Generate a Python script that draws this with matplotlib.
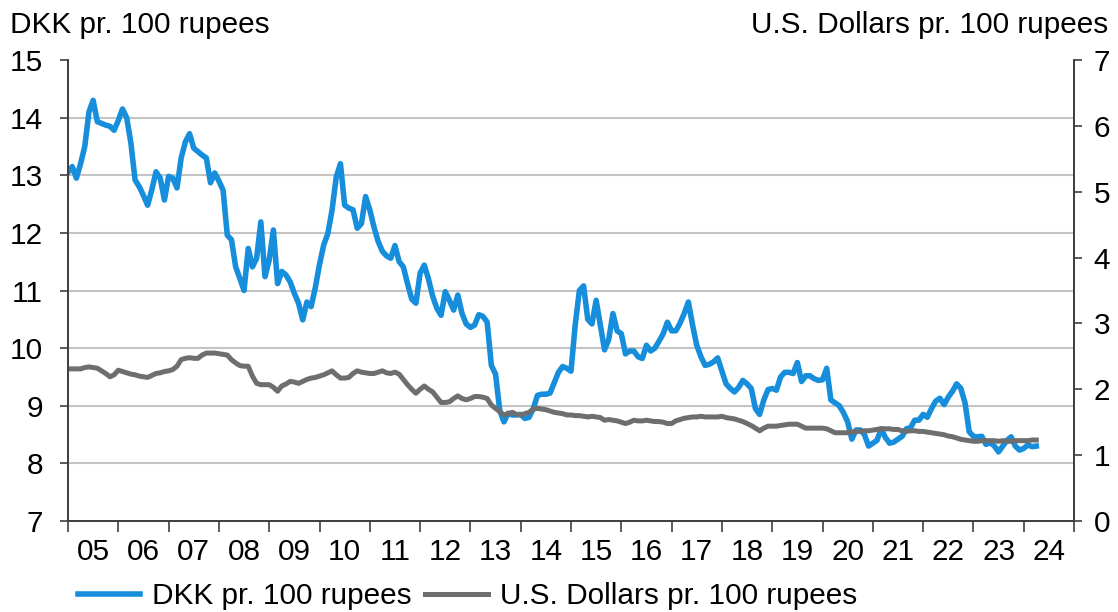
import matplotlib
matplotlib.use("Agg")
import matplotlib.pyplot as plt
import numpy as np

plt.rcParams['font.family'] = ['Liberation Sans', 'DejaVu Sans']

# Monthly data, Jan 2005 .. Apr 2024
dkk = [
    # 2005
    13.05, 13.15, 12.95, 13.2, 13.5, 14.1, 14.3, 13.93, 13.9, 13.87, 13.85, 13.78,
    # 2006
    13.95, 14.15, 14.0, 13.56, 12.92, 12.8, 12.65, 12.48, 12.75, 13.06, 12.95, 12.57,
    # 2007
    12.98, 12.95, 12.78, 13.3, 13.58, 13.72, 13.47, 13.41, 13.35, 13.3, 12.87, 13.04,
    # 2008
    12.9, 12.74, 11.96, 11.88, 11.41, 11.21, 11.0, 11.73, 11.41, 11.56, 12.19, 11.24,
    # 2009
    11.53, 12.05, 11.12, 11.33, 11.27, 11.15, 10.95, 10.78, 10.49, 10.8, 10.72, 11.05,
    # 2010
    11.45, 11.79, 11.99, 12.4, 12.97, 13.2, 12.48, 12.43, 12.4, 12.08, 12.16, 12.63,
    # 2011
    12.4, 12.1, 11.85, 11.68, 11.6, 11.56, 11.78, 11.5, 11.41, 11.12, 10.85, 10.78,
    # 2012
    11.3, 11.44, 11.2, 10.9, 10.69, 10.57, 10.98, 10.83, 10.66, 10.92, 10.6, 10.42,
    # 2013
    10.36, 10.4, 10.58, 10.55, 10.45, 9.7, 9.55, 8.92, 8.72, 8.87, 8.84, 8.84,
    # 2014
    8.85, 8.78, 8.8, 8.95, 9.18, 9.2, 9.2, 9.22, 9.4, 9.58, 9.68, 9.65,
    # 2015
    9.6, 10.4, 11.0, 11.08, 10.5, 10.42, 10.83, 10.4, 9.97, 10.15, 10.6, 10.3,
    # 2016
    10.25, 9.9, 9.95, 9.95, 9.85, 9.82, 10.05, 9.95, 10.0, 10.12, 10.25, 10.45,
    # 2017
    10.3, 10.3, 10.43, 10.6, 10.8, 10.4, 10.05, 9.85, 9.7, 9.72, 9.76, 9.83,
    # 2018
    9.6, 9.38, 9.3, 9.24, 9.32, 9.44, 9.38, 9.3, 8.95, 8.85, 9.1, 9.28,
    # 2019
    9.3, 9.27, 9.5, 9.58, 9.58, 9.56, 9.75, 9.42, 9.52, 9.52, 9.47, 9.44,
    # 2020
    9.45, 9.65, 9.1, 9.05, 9.0, 8.88, 8.72, 8.42, 8.58, 8.58, 8.5, 8.3,
    # 2021
    8.35, 8.4, 8.6, 8.45, 8.35, 8.37, 8.42, 8.47, 8.6, 8.62, 8.75, 8.75,
    # 2022
    8.85, 8.8, 8.95, 9.08, 9.13, 9.02, 9.15, 9.25, 9.38, 9.3, 9.05, 8.55,
    # 2023
    8.47, 8.46, 8.47, 8.33, 8.36, 8.3, 8.2, 8.3, 8.4, 8.46, 8.3, 8.23,
    # 2024
    8.26, 8.32, 8.29, 8.3,
]

usd = [
    # 2005
    2.31, 2.31, 2.31, 2.31, 2.33, 2.34, 2.33, 2.32, 2.28, 2.24, 2.19, 2.22,
    # 2006
    2.29, 2.27, 2.25, 2.23, 2.22, 2.20, 2.19, 2.18, 2.21, 2.24, 2.25, 2.27,
    # 2007
    2.28, 2.30, 2.35, 2.45, 2.47, 2.48, 2.47, 2.47, 2.52, 2.55, 2.55, 2.55,
    # 2008
    2.54, 2.53, 2.52, 2.45, 2.40, 2.36, 2.35, 2.35, 2.20, 2.09, 2.07, 2.07,
    # 2009
    2.07, 2.03, 1.97, 2.05, 2.08, 2.12, 2.11, 2.09, 2.12, 2.15, 2.17, 2.18,
    # 2010
    2.20, 2.22, 2.25, 2.28, 2.22, 2.17, 2.17, 2.18, 2.24, 2.28, 2.26, 2.25,
    # 2011
    2.24, 2.24, 2.26, 2.28, 2.25, 2.24, 2.26, 2.23, 2.15, 2.07, 2.00, 1.94,
    # 2012
    2.00, 2.05, 2.00, 1.96, 1.88, 1.80, 1.80, 1.81, 1.86, 1.90, 1.86, 1.84,
    # 2013
    1.86, 1.89, 1.89, 1.88, 1.86, 1.76, 1.71, 1.66, 1.61, 1.63, 1.65, 1.62,
    # 2014
    1.61, 1.63, 1.65, 1.70, 1.71, 1.70, 1.69, 1.67, 1.65, 1.64, 1.63, 1.61,
    # 2015
    1.61, 1.60, 1.60, 1.59, 1.58, 1.59, 1.58, 1.57, 1.53, 1.54, 1.53, 1.52,
    # 2016
    1.50, 1.48, 1.50, 1.53, 1.52, 1.52, 1.53, 1.52, 1.51, 1.51, 1.50, 1.48,
    # 2017
    1.48, 1.52, 1.54, 1.56, 1.57, 1.58, 1.58, 1.59, 1.58, 1.58, 1.58, 1.58,
    # 2018
    1.59, 1.57, 1.56, 1.55, 1.53, 1.51, 1.48, 1.45, 1.41, 1.37, 1.41, 1.44,
    # 2019
    1.44, 1.44, 1.45, 1.46, 1.47, 1.47, 1.47, 1.44, 1.41, 1.41, 1.41, 1.41,
    # 2020
    1.41, 1.40, 1.37, 1.34, 1.34, 1.34, 1.34, 1.35, 1.36, 1.36, 1.37, 1.37,
    # 2021
    1.38, 1.39, 1.40, 1.40, 1.40, 1.39, 1.39, 1.37, 1.36, 1.37, 1.37, 1.36,
    # 2022
    1.36, 1.35, 1.34, 1.33, 1.32, 1.31, 1.29, 1.28, 1.26, 1.24, 1.23, 1.22,
    # 2023
    1.21, 1.21, 1.22, 1.22, 1.22, 1.22, 1.21, 1.22, 1.21, 1.21, 1.22, 1.22,
    # 2024
    1.22, 1.22, 1.23, 1.23,
]

year_labels = ['05', '06', '07', '08', '09', '10', '11', '12', '13', '14',
               '15', '16', '17', '18', '19', '20', '21', '22', '23', '24']
left_ticks = [7, 8, 9, 10, 11, 12, 13, 14, 15]
right_ticks = [0, 1, 2, 3, 4, 5, 6, 7]

FS = 21.4
BLUE = '#168EDB'
GRAY = '#6E6E6E'

fig = plt.figure(figsize=(11.18, 6.12), dpi=100)
ax = fig.add_axes([68 / 1118, 1 - 521 / 612, (1074 - 68) / 1118, (521 - 60) / 612])
ax2 = ax.twinx()

months = np.arange(len(dkk))
l1, = ax.plot(months, dkk, color=BLUE, lw=4.0, solid_joinstyle='round', label='DKK pr. 100 rupees')
l2, = ax2.plot(np.arange(len(usd)), usd, color=GRAY, lw=3.6, solid_joinstyle='round',
               label='U.S. Dollars pr. 100 rupees')

n_years = len(year_labels)
ax.set_xlim(0, 12 * n_years)
ax.set_ylim(7, 15)
ax2.set_ylim(0, 7)

ax.set_xticks(np.arange(0, 12 * n_years + 1, 12))
ax.set_xticklabels([])
ax.set_xticks(np.arange(6, 12 * n_years, 12), minor=True)
ax.set_xticklabels(year_labels, minor=True)
ax.tick_params(axis='x', which='major', direction='out', length=8, width=1.2, color='#404040')
ax.tick_params(axis='x', which='minor', length=0, pad=12, labelsize=FS)

ax.set_yticks(left_ticks)
ax.tick_params(axis='y', direction='out', length=6, width=1.2, color='#404040', labelsize=FS, pad=12)
ax2.set_yticks(right_ticks)
ax2.tick_params(axis='y', direction='out', length=6, width=1.2, color='#404040', labelsize=FS, pad=8)

for v in left_ticks[1:-1]:
    ax.axhline(v, color='#C4C4C4', lw=1.5, zorder=0)

for a in (ax, ax2):
    a.spines['top'].set_visible(False)
    for s in ('left', 'right', 'bottom'):
        a.spines[s].set_color('#404040')
        a.spines[s].set_linewidth(1.3)

fig.text(10 / 1118, 1 - 25 / 612, 'DKK pr. 100 rupees', fontsize=FS, ha='left', va='center')
fig.text(1108 / 1118, 1 - 25 / 612, 'U.S. Dollars pr. 100 rupees', fontsize=FS, ha='right', va='center')

fig.legend(handles=[l1, l2], loc='center left', bbox_to_anchor=(78 / 1118, 1 - 596 / 612),
           ncol=2, frameon=False, fontsize=FS, handlelength=2.1, handletextpad=0.4,
           columnspacing=0.45, borderpad=0, borderaxespad=0)

fig.savefig('out.png', dpi=100)
